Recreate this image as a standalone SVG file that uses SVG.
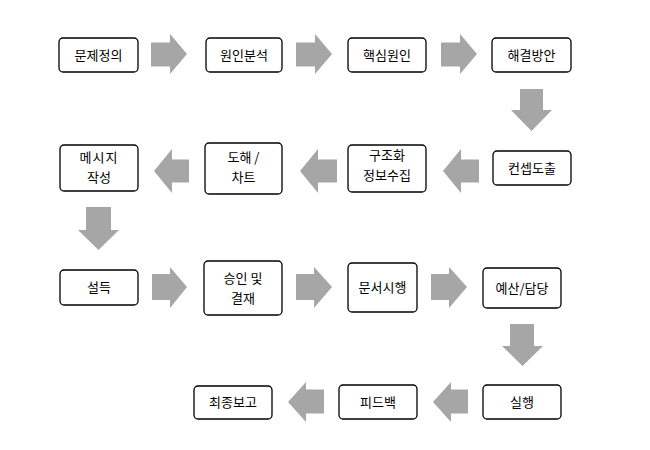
<svg xmlns="http://www.w3.org/2000/svg" width="650" height="450" viewBox="0 0 650 450">
<style>
.box{fill:#fff;stroke:#000;stroke-width:1.3}
.t{font-family:"Noto Sans CJK KR","Liberation Sans",sans-serif;font-size:13px;fill:#000;text-anchor:middle}
.ar{fill:#a6a6a6;stroke:none}
</style>
<rect width="650" height="450" fill="#fff"/>
<g id="connectors">
<polygon class="ar" points="151,42.5 170,42.5 170,34 187,54 170,74 170,66.5 151,66.5"/>
<polygon class="ar" points="296,42.5 315,42.5 315,34 332,54 315,74 315,66.5 296,66.5"/>
<polygon class="ar" points="441,42.5 460,42.5 460,34 477,54 460,74 460,66.5 441,66.5"/>
<polygon class="ar" points="520,89 543,89 543,110 552,110 531.5,131 511,110 520,110"/>
<polygon class="ar" points="479,159.5 461,159.5 461,149 443,171 461,193 461,182.5 479,182.5"/>
<polygon class="ar" points="337,159.5 318,159.5 318,149 300,171 318,193 318,182.5 337,182.5"/>
<polygon class="ar" points="189,159.5 172,159.5 172,149 154,171 172,193 172,182.5 189,182.5"/>
<polygon class="ar" points="86,207 111,207 111,230 119,230 98.5,250 78,230 86,230"/>
<polygon class="ar" points="152,274 170,274 170,267 187,287 170,308 170,300 152,300"/>
<polygon class="ar" points="296,274 314,274 314,267 332,287 314,308 314,300 296,300"/>
<polygon class="ar" points="431,274 449,274 449,267 467,287 449,308 449,300 431,300"/>
<polygon class="ar" points="510,324 534,324 534,346 543,346 522.5,366 502,346 510,346"/>
<polygon class="ar" points="468,389.5 451,389.5 451,382 433,402 451,422 451,413.5 468,413.5"/>
<polygon class="ar" points="324,389.5 306,389.5 306,382 288,402 306,422 306,413.5 324,413.5"/>
</g>
<g id="n1"><rect class="box" x="59" y="38" width="79" height="34" rx="4"/><text class="t" x="98.5" y="59.5">문제정의</text></g>
<g id="n2"><rect class="box" x="206" y="38" width="76" height="34" rx="4"/><text class="t" x="244" y="59.5">원인분석</text></g>
<g id="n3"><rect class="box" x="348" y="38" width="78" height="34" rx="4"/><text class="t" x="387" y="59.5">핵심원인</text></g>
<g id="n4"><rect class="box" x="492" y="38" width="79" height="34" rx="4"/><text class="t" x="531.5" y="59.5">해결방안</text></g>
<g id="n5"><rect class="box" x="493" y="151" width="78" height="34" rx="4"/><text class="t" x="532" y="172.5">컨셉도출</text></g>
<g id="n6"><rect class="box" x="348" y="145" width="78" height="47" rx="4"/><text class="t" x="387" y="159.5">구조화</text><text class="t" x="387" y="179.5">정보수집</text></g>
<g id="n7"><rect class="box" x="205" y="143" width="77" height="51" rx="4"/><text class="t" x="243.5" y="161.5">도해 /</text><text class="t" x="243.5" y="181.5">차트</text></g>
<g id="n8"><rect class="box" x="60" y="145" width="78" height="46" rx="4"/><text class="t" x="99" y="161.5" letter-spacing="1">메시지</text><text class="t" x="99" y="181.5">작성</text></g>
<g id="n9"><rect class="box" x="60" y="270" width="78" height="35" rx="4"/><text class="t" x="99" y="292">설득</text></g>
<g id="n10"><rect class="box" x="204" y="261" width="78" height="54" rx="4"/><text class="t" x="243" y="282.5">승인 및</text><text class="t" x="243" y="302.5">결재</text></g>
<g id="n11"><rect class="box" x="348" y="263" width="69" height="49" rx="4"/><text class="t" x="382.5" y="292">문서시행</text></g>
<g id="n12"><rect class="box" x="483" y="268" width="78" height="40" rx="4"/><text class="t" x="522" y="292.5">예산/담당</text></g>
<g id="n13"><rect class="box" x="483" y="385" width="78" height="34" rx="4"/><text class="t" x="522" y="406.5">실행</text></g>
<g id="n14"><rect class="box" x="339" y="385" width="78" height="34" rx="4"/><text class="t" x="378" y="406.5">피드백</text></g>
<g id="n15"><rect class="box" x="194" y="386" width="78" height="33" rx="4"/><text class="t" x="233" y="407">최종보고</text></g>
</svg>
